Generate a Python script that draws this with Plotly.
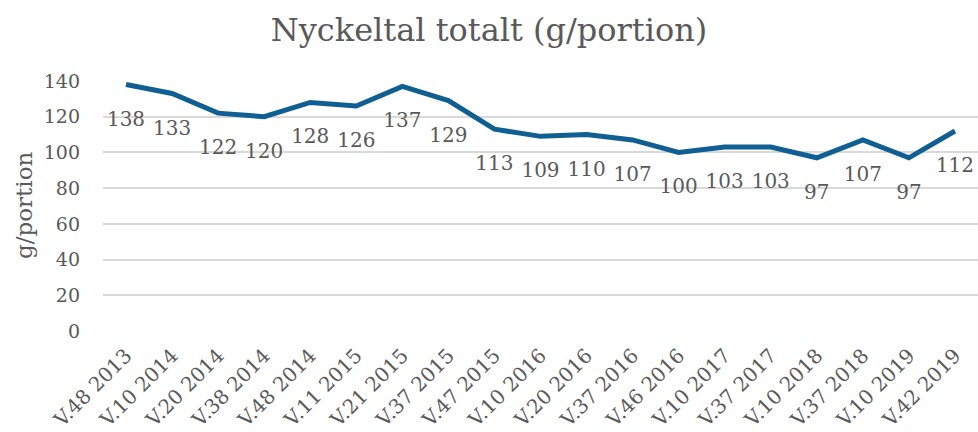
import plotly.graph_objects as go

categories = ["V.48 2013", "V.10 2014", "V.20 2014", "V.38 2014", "V.48 2014", "V.11 2015",
              "V.21 2015", "V.37 2015", "V.47 2015", "V.10 2016", "V.20 2016", "V.37 2016",
              "V.46 2016", "V.10 2017", "V.37 2017", "V.10 2018", "V.37 2018", "V.10 2019",
              "V.42 2019"]
values = [138, 133, 122, 120, 128, 126, 137, 129, 113, 109, 110, 107, 100, 103, 103, 97, 107, 97, 112]
y_ticks = [0, 20, 40, 60, 80, 100, 120, 140]

FONT = "'DejaVu Serif', serif"
GREY = "#595959"

fig = go.Figure(go.Scatter(
    x=categories, y=values, mode="lines+markers+text",
    line=dict(color="#0f5f93", width=5),
    marker=dict(size=40, color="rgba(0,0,0,0)"),
    text=[str(v) for v in values], textposition="bottom center",
    textfont=dict(family=FONT, size=20, color=GREY),
    hoverinfo="skip", cliponaxis=False,
))

fig.update_layout(
    width=978, height=432,
    margin=dict(l=103, r=0, t=81, b=101, autoexpand=False),
    paper_bgcolor="white", plot_bgcolor="white",
    showlegend=False,
    title=dict(text="Nyckeltal totalt (g/portion)", x=0.5, xanchor="center", y=1 - 30 / 432,
               yanchor="middle", font=dict(family=FONT, size=32, color=GREY)),
    font=dict(family=FONT, color=GREY),
    annotations=[dict(text="g/portion", textangle=-90, xref="paper", yref="paper", x=0, y=0.5,
                      xanchor="center", yanchor="middle", xshift=-79, showarrow=False,
                      font=dict(family=FONT, size=23, color=GREY))],
)
fig.update_xaxes(type="category", tickangle=-45, tickfont=dict(family=FONT, size=20, color=GREY),
                 showgrid=False, showline=False, ticks="outside", ticklen=4, tickcolor="white",
                 range=[-0.5, 18.5], automargin=False)
fig.update_yaxes(range=[0, 140], tickvals=y_ticks, showgrid=True, gridcolor="#d9d9d9", gridwidth=1.5,
                 zeroline=False, tickfont=dict(family=FONT, size=19, color=GREY),
                 ticks="", ticklabelstandoff=22, automargin=False)

fig.write_html("out.html", config={"displayModeBar": False},
               post_script="document.body.style.margin='0';document.body.style.overflow='hidden';")
